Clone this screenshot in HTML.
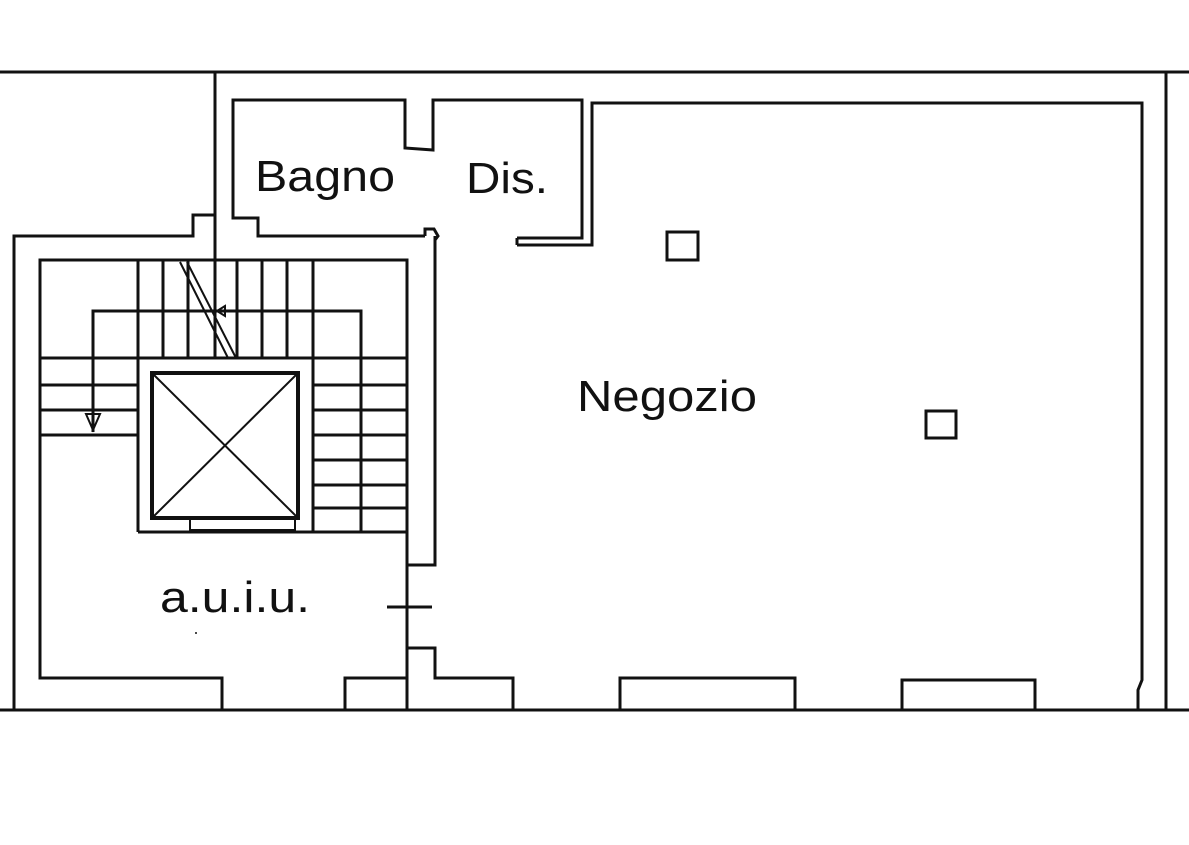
<!DOCTYPE html>
<html><head><meta charset="utf-8"><style>
html,body{margin:0;padding:0;background:#fff;}
svg{display:block;}
text{font-family:"Liberation Sans",sans-serif;fill:#111;}
</style></head><body>
<svg width="1189" height="845" viewBox="0 0 1189 845" xmlns="http://www.w3.org/2000/svg">
<g fill="none" stroke="#111" stroke-width="3" stroke-linejoin="miter">
<line x1="0" y1="72" x2="1189" y2="72"/>
<line x1="0" y1="710" x2="1189" y2="710"/>
<line x1="1166" y1="72" x2="1166" y2="710"/>
<polyline points="517,245 592,245 592,103 1142,103 1142,680 1138,690 1138,710"/>
<polyline points="517,238 582,238 582,100 433,100 433,150 405,148 405,100 233,100 233,218 258,218 258,236 425,236"/>
<line x1="517" y1="238" x2="517" y2="245"/>
<polyline points="425,236 425,229 434,229 438,236 435,240"/>
<line x1="215" y1="72" x2="215" y2="358"/>
<polyline points="215,215 193,215 193,236 14,236 14,710"/>
<polyline points="407,710 407,260 40,260 40,678 222,678 222,710"/>
<polyline points="345,710 345,678 407,678"/>
<polyline points="435,236 435,565 407,565"/>
<line x1="387" y1="607" x2="432" y2="607"/>
<polyline points="407,648 435,648 435,678 513,678 513,710"/>
<polyline points="620,710 620,678 795,678 795,710"/>
<polyline points="902,710 902,680 1035,680 1035,710"/>
<rect x="667" y="232" width="31" height="28"/>
<rect x="926" y="411" width="30" height="27"/>
<line x1="138" y1="260" x2="138" y2="532"/>
<line x1="163" y1="260" x2="163" y2="358"/>
<line x1="188" y1="260" x2="188" y2="358"/>
<line x1="237" y1="260" x2="237" y2="358"/>
<line x1="262" y1="260" x2="262" y2="358"/>
<line x1="287" y1="260" x2="287" y2="358"/>
<line x1="313" y1="260" x2="313" y2="532"/>
<polyline points="93,432 93,311 361,311 361,532"/>
<line x1="40" y1="358" x2="407" y2="358"/>
<line x1="138" y1="532" x2="407" y2="532"/>
<line x1="40" y1="385" x2="138" y2="385"/>
<line x1="40" y1="410" x2="138" y2="410"/>
<line x1="40" y1="435" x2="138" y2="435"/>
<line x1="313" y1="385" x2="407" y2="385"/>
<line x1="313" y1="410" x2="407" y2="410"/>
<line x1="313" y1="435" x2="407" y2="435"/>
<line x1="313" y1="460" x2="407" y2="460"/>
<line x1="313" y1="485" x2="407" y2="485"/>
<line x1="313" y1="508" x2="407" y2="508"/>
<rect x="152" y="373" width="146" height="145" stroke-width="4"/>
<line x1="152" y1="373" x2="298" y2="518" stroke-width="2"/>
<line x1="298" y1="373" x2="152" y2="518" stroke-width="2"/>
<polyline points="190,518 190,530 295,530 295,518" stroke-width="2"/>
<line x1="180" y1="262" x2="228" y2="358" stroke-width="2"/>
<line x1="187" y1="262" x2="236" y2="358" stroke-width="2"/>
<path d="M225,306 L217,311 L225,316 Z" stroke-width="2"/>
<path d="M86,414 L100,414 L93,430 Z" stroke-width="2"/>
</g>
<circle cx="196" cy="633" r="1" fill="#111"/>
<text x="255" y="191" font-size="44" textLength="140" lengthAdjust="spacingAndGlyphs">Bagno</text>
<text x="466" y="193" font-size="44" textLength="82" lengthAdjust="spacingAndGlyphs">Dis.</text>
<text x="577" y="411" font-size="44" textLength="180" lengthAdjust="spacingAndGlyphs">Negozio</text>
<text x="160" y="612" font-size="44" textLength="150" lengthAdjust="spacingAndGlyphs">a.u.i.u.</text>
</svg>
</body></html>
